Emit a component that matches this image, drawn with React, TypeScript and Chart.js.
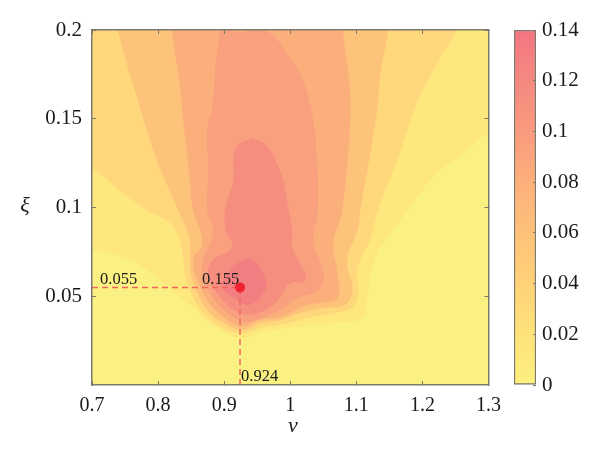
import React, { useEffect, useRef } from "react";
import { Chart, registerables } from "chart.js";

Chart.register(...registerables);

const FONT = '"Liberation Serif", serif';

// contour outlines as [nu, xi]
const bandA = [[0.7, 0], [1.3, 0], [1.3, 0.2], [0.7, 0.2]];
const bandB = [[0.66, 0.0761], [0.7, 0.0761], [0.747, 0.0721], [0.798, 0.0608], [0.844, 0.0462], [0.879, 0.0349], [0.909, 0.0282], [0.929, 0.0265], [0.959, 0.0299], [1.015, 0.0332], [1.076, 0.0355], [1.108, 0.0375], [1.116, 0.0479], [1.121, 0.0608], [1.132, 0.0744], [1.167, 0.093], [1.217, 0.1172], [1.262, 0.1307], [1.3, 0.1425], [1.34, 0.155], [1.34, 0.22], [0.66, 0.22]];
const bandC = [[0.66, 0.133], [0.7, 0.1223], [0.777, 0.0997], [0.818, 0.0913], [0.833, 0.0817], [0.838, 0.0704], [0.844, 0.0575], [0.868, 0.0406], [0.905, 0.031], [0.929, 0.0293], [0.959, 0.0327], [0.985, 0.0338], [1.035, 0.0383], [1.071, 0.0406], [1.095, 0.0439], [1.103, 0.0518], [1.102, 0.0659], [1.121, 0.0817], [1.133, 0.0986], [1.162, 0.1268], [1.192, 0.1589], [1.217, 0.1775], [1.252, 0.2], [1.27, 0.22], [0.66, 0.22]];
const bandD = [[0.733, 0.22], [0.739, 0.2], [0.768, 0.1623], [0.798, 0.1268], [0.829, 0.0997], [0.848, 0.0817], [0.848, 0.0704], [0.852, 0.0592], [0.874, 0.0423], [0.905, 0.0338], [0.929, 0.031], [0.955, 0.0349], [0.985, 0.0366], [1.015, 0.0406], [1.05, 0.0434], [1.083, 0.0451], [1.094, 0.0535], [1.086, 0.0704], [1.102, 0.0873], [1.106, 0.0986], [1.117, 0.1211], [1.133, 0.1589], [1.136, 0.1735], [1.148, 0.2], [1.152, 0.22]];
const bandE = [[0.819, 0.22], [0.821, 0.2], [0.833, 0.1679], [0.838, 0.1493], [0.848, 0.1155], [0.852, 0.0997], [0.867, 0.08], [0.853, 0.0704], [0.861, 0.0575], [0.882, 0.0439], [0.909, 0.0355], [0.929, 0.0327], [0.952, 0.0366], [0.985, 0.0383], [1.026, 0.0451], [1.056, 0.0468], [1.073, 0.0496], [1.071, 0.0648], [1.065, 0.08], [1.079, 0.0986], [1.091, 0.1589], [1.08, 0.2], [1.078, 0.22]];
const bandF = [[0.9, 0.22], [0.912, 0.2], [0.962, 0.2], [1.0, 0.1842], [1.023, 0.1679], [1.038, 0.1397], [1.042, 0.0986], [1.035, 0.0817], [1.048, 0.0665], [1.05, 0.0575], [1.035, 0.0518], [1.011, 0.049], [0.985, 0.0423], [0.955, 0.0372], [0.932, 0.0355], [0.914, 0.0383], [0.889, 0.0462], [0.868, 0.0608], [0.868, 0.0704], [0.883, 0.0856], [0.874, 0.0986], [0.876, 0.1211], [0.874, 0.1437], [0.883, 0.1589], [0.886, 0.1775]];
const bandG = [[0.942, 0.1392], [0.921, 0.1352], [0.914, 0.1285], [0.914, 0.1155], [0.902, 0.0997], [0.902, 0.0873], [0.912, 0.0777], [0.883, 0.0704], [0.876, 0.0608], [0.898, 0.0479], [0.92, 0.0411], [0.936, 0.0394], [0.955, 0.0411], [0.97, 0.0439], [0.985, 0.0496], [1.0, 0.0575], [1.02, 0.058], [1.023, 0.062], [1.003, 0.0777], [1.003, 0.0873], [0.997, 0.0997], [0.989, 0.1155], [0.97, 0.1324], [0.958, 0.1369]];
const bandH = [[0.939, 0.0715], [0.921, 0.0687], [0.906, 0.0631], [0.898, 0.0546], [0.921, 0.0479], [0.939, 0.0451], [0.962, 0.0535], [0.962, 0.0603], [0.952, 0.0676]];

const bandColors = ["#F27E82", "#F68E7F", "#F9A07F", "#FBB07C", "#FDC37B", "#FFD87B", "#FEE87E"];
const bands = [bandH, bandG, bandF, bandE, bandD, bandC, bandB];

const peakNu = 0.924;
const peakXi = 0.055;
const peakValue = "0.155";

const nuTicks = [0.7, 0.8, 0.9, 1, 1.1, 1.2, 1.3];
const xiTicks = [0.05, 0.1, 0.15, 0.2];
const barTicks = [0, 0.02, 0.04, 0.06, 0.08, 0.1, 0.12, 0.14];
const barStops = ["#FDF07F", "#FFE27A", "#FFD278", "#FEC17A", "#FCB07B", "#F99A7E", "#F58980", "#F27582"];

const axisColor = "#7d7a6c";

const fixedTicks = (values: number[]) => (axis: any) => {
  axis.ticks = values.map((value) => ({ value }));
};

const mainLabels = {
  id: "mainLabels",
  afterDatasetsDraw(chart: any) {
    const { ctx, scales } = chart;
    const px = scales.x.getPixelForValue(peakNu);
    const py = scales.y.getPixelForValue(peakXi);
    ctx.save();
    ctx.fillStyle = "#1a1a1a";
    ctx.font = `16.5px ${FONT}`;
    ctx.textAlign = "left";
    ctx.textBaseline = "alphabetic";
    ctx.fillText(String(peakXi), 100, py - 3);
    ctx.fillText(peakValue, 202, py - 3);
    ctx.fillText(String(peakNu), px + 1, 381);
    ctx.font = `italic 22px ${FONT}`;
    ctx.textAlign = "center";
    ctx.textBaseline = "middle";
    ctx.fillText("ξ", 25, 206);
    ctx.fillText("ν", 293, 426);
    ctx.restore();
  },
};

export default function App() {
  const mainRef = useRef<HTMLCanvasElement | null>(null);
  const barRef = useRef<HTMLCanvasElement | null>(null);

  useEffect(() => {
    if (!mainRef.current || !barRef.current) return;

    const sideAxis = (position: string, values: number[], min: number, max: number, size: number) => ({
      type: "linear",
      position,
      min,
      max,
      afterBuildTicks: fixedTicks(values),
      afterFit: (s: any) => {
        if (position === "top") s.height = size;
        else s.width = size;
      },
      ticks: { display: false },
      grid: { drawOnChartArea: false, tickLength: -4, color: axisColor, z: 1 },
      border: { color: axisColor, width: 1.5, z: 2 },
    });

    const main = new Chart(mainRef.current, {
      type: "scatter",
      data: {
        datasets: [
          {
            data: [[peakNu, peakXi]],
            pointRadius: 5,
            pointBackgroundColor: "#EE2230",
            pointBorderWidth: 0,
          },
          {
            data: [[0.7, peakXi], [peakNu, peakXi]],
            showLine: true,
            pointRadius: 0,
            borderColor: "#F2655F",
            borderWidth: 1.5,
            borderDash: [6, 4],
          },
          {
            data: [[peakNu, 0], [peakNu, peakXi]],
            showLine: true,
            pointRadius: 0,
            borderColor: "#F2655F",
            borderWidth: 1.5,
            borderDash: [6, 4],
          },
          ...bands.map((points, i) => ({
            data: points,
            showLine: true,
            pointRadius: 0,
            borderWidth: 0,
            tension: 0.4,
            capBezierPoints: false,
            backgroundColor: bandColors[i],
            fill: "shape",
          })),
          {
            data: bandA,
            showLine: true,
            pointRadius: 0,
            borderWidth: 0,
            backgroundColor: "#FBF082",
            fill: "shape",
          },
        ],
      } as any,
      options: {
        animation: false,
        responsive: false,
        layout: { padding: 0 },
        plugins: { legend: { display: false }, tooltip: { enabled: false } },
        scales: {
          x: {
            type: "linear",
            min: 0.7,
            max: 1.3,
            afterBuildTicks: fixedTicks(nuTicks),
            afterFit: (s: any) => {
              s.height = 70;
            },
            ticks: {
              color: "#1a1a1a",
              font: { family: FONT, size: 20 },
              padding: 13,
              maxRotation: 0,
              autoSkip: false,
              callback: (v: any) => String(v),
            },
            grid: { drawOnChartArea: false, tickLength: -4, color: axisColor, z: 1 },
            border: { color: axisColor, width: 1.5, z: 2 },
          },
          y: {
            type: "linear",
            min: 0,
            max: 0.2,
            afterBuildTicks: fixedTicks(xiTicks),
            afterFit: (s: any) => {
              s.width = 92;
            },
            ticks: {
              color: "#1a1a1a",
              font: { family: FONT, size: 21 },
              padding: 14,
              autoSkip: false,
              callback: (v: any) => String(v),
            },
            grid: { drawOnChartArea: false, tickLength: -4, color: axisColor, z: 1 },
            border: { color: axisColor, width: 1.5, z: 2 },
          },
          x2: sideAxis("top", nuTicks, 0.7, 1.3, 30),
          y2: sideAxis("right", xiTicks, 0, 0.2, 17),
        },
      } as any,
      plugins: [mainLabels],
    });

    const bar = new Chart(barRef.current, {
      type: "bar",
      data: {
        labels: [""],
        datasets: [
          {
            data: [[0, 0.14]],
            barPercentage: 1,
            categoryPercentage: 1,
            borderWidth: 1.5,
            borderColor: axisColor,
            borderSkipped: false,
            backgroundColor: (c: any) => {
              const area = c.chart.chartArea;
              if (!area) return barStops[0];
              const g = c.chart.ctx.createLinearGradient(0, area.bottom, 0, area.top);
              barStops.forEach((color, i) => g.addColorStop(i / (barStops.length - 1), color));
              return g;
            },
          },
        ],
      } as any,
      options: {
        animation: false,
        responsive: false,
        layout: { padding: { left: 14, top: 30, bottom: 70 } },
        plugins: { legend: { display: false }, tooltip: { enabled: false } },
        scales: {
          x: { display: false },
          y: {
            position: "right",
            min: 0,
            max: 0.14,
            afterBuildTicks: fixedTicks(barTicks),
            afterFit: (s: any) => {
              s.width = 64;
            },
            ticks: {
              color: "#1a1a1a",
              font: { family: FONT, size: 21 },
              padding: 9,
              autoSkip: false,
              callback: (v: any) => String(v),
            },
            grid: { drawOnChartArea: false, tickLength: -3, color: axisColor, z: 1 },
            border: { display: false },
          },
        },
      } as any,
    });

    return () => {
      main.destroy();
      bar.destroy();
    };
  }, []);

  return (
    <div style={{ position: "fixed", left: 0, top: 0, width: 600, height: 455, background: "#fff" }}>
      <canvas ref={mainRef} width={514} height={455} style={{ position: "absolute", left: 0, top: 0 }} />
      <canvas ref={barRef} width={100} height={455} style={{ position: "absolute", left: 500, top: 0 }} />
    </div>
  );
}
